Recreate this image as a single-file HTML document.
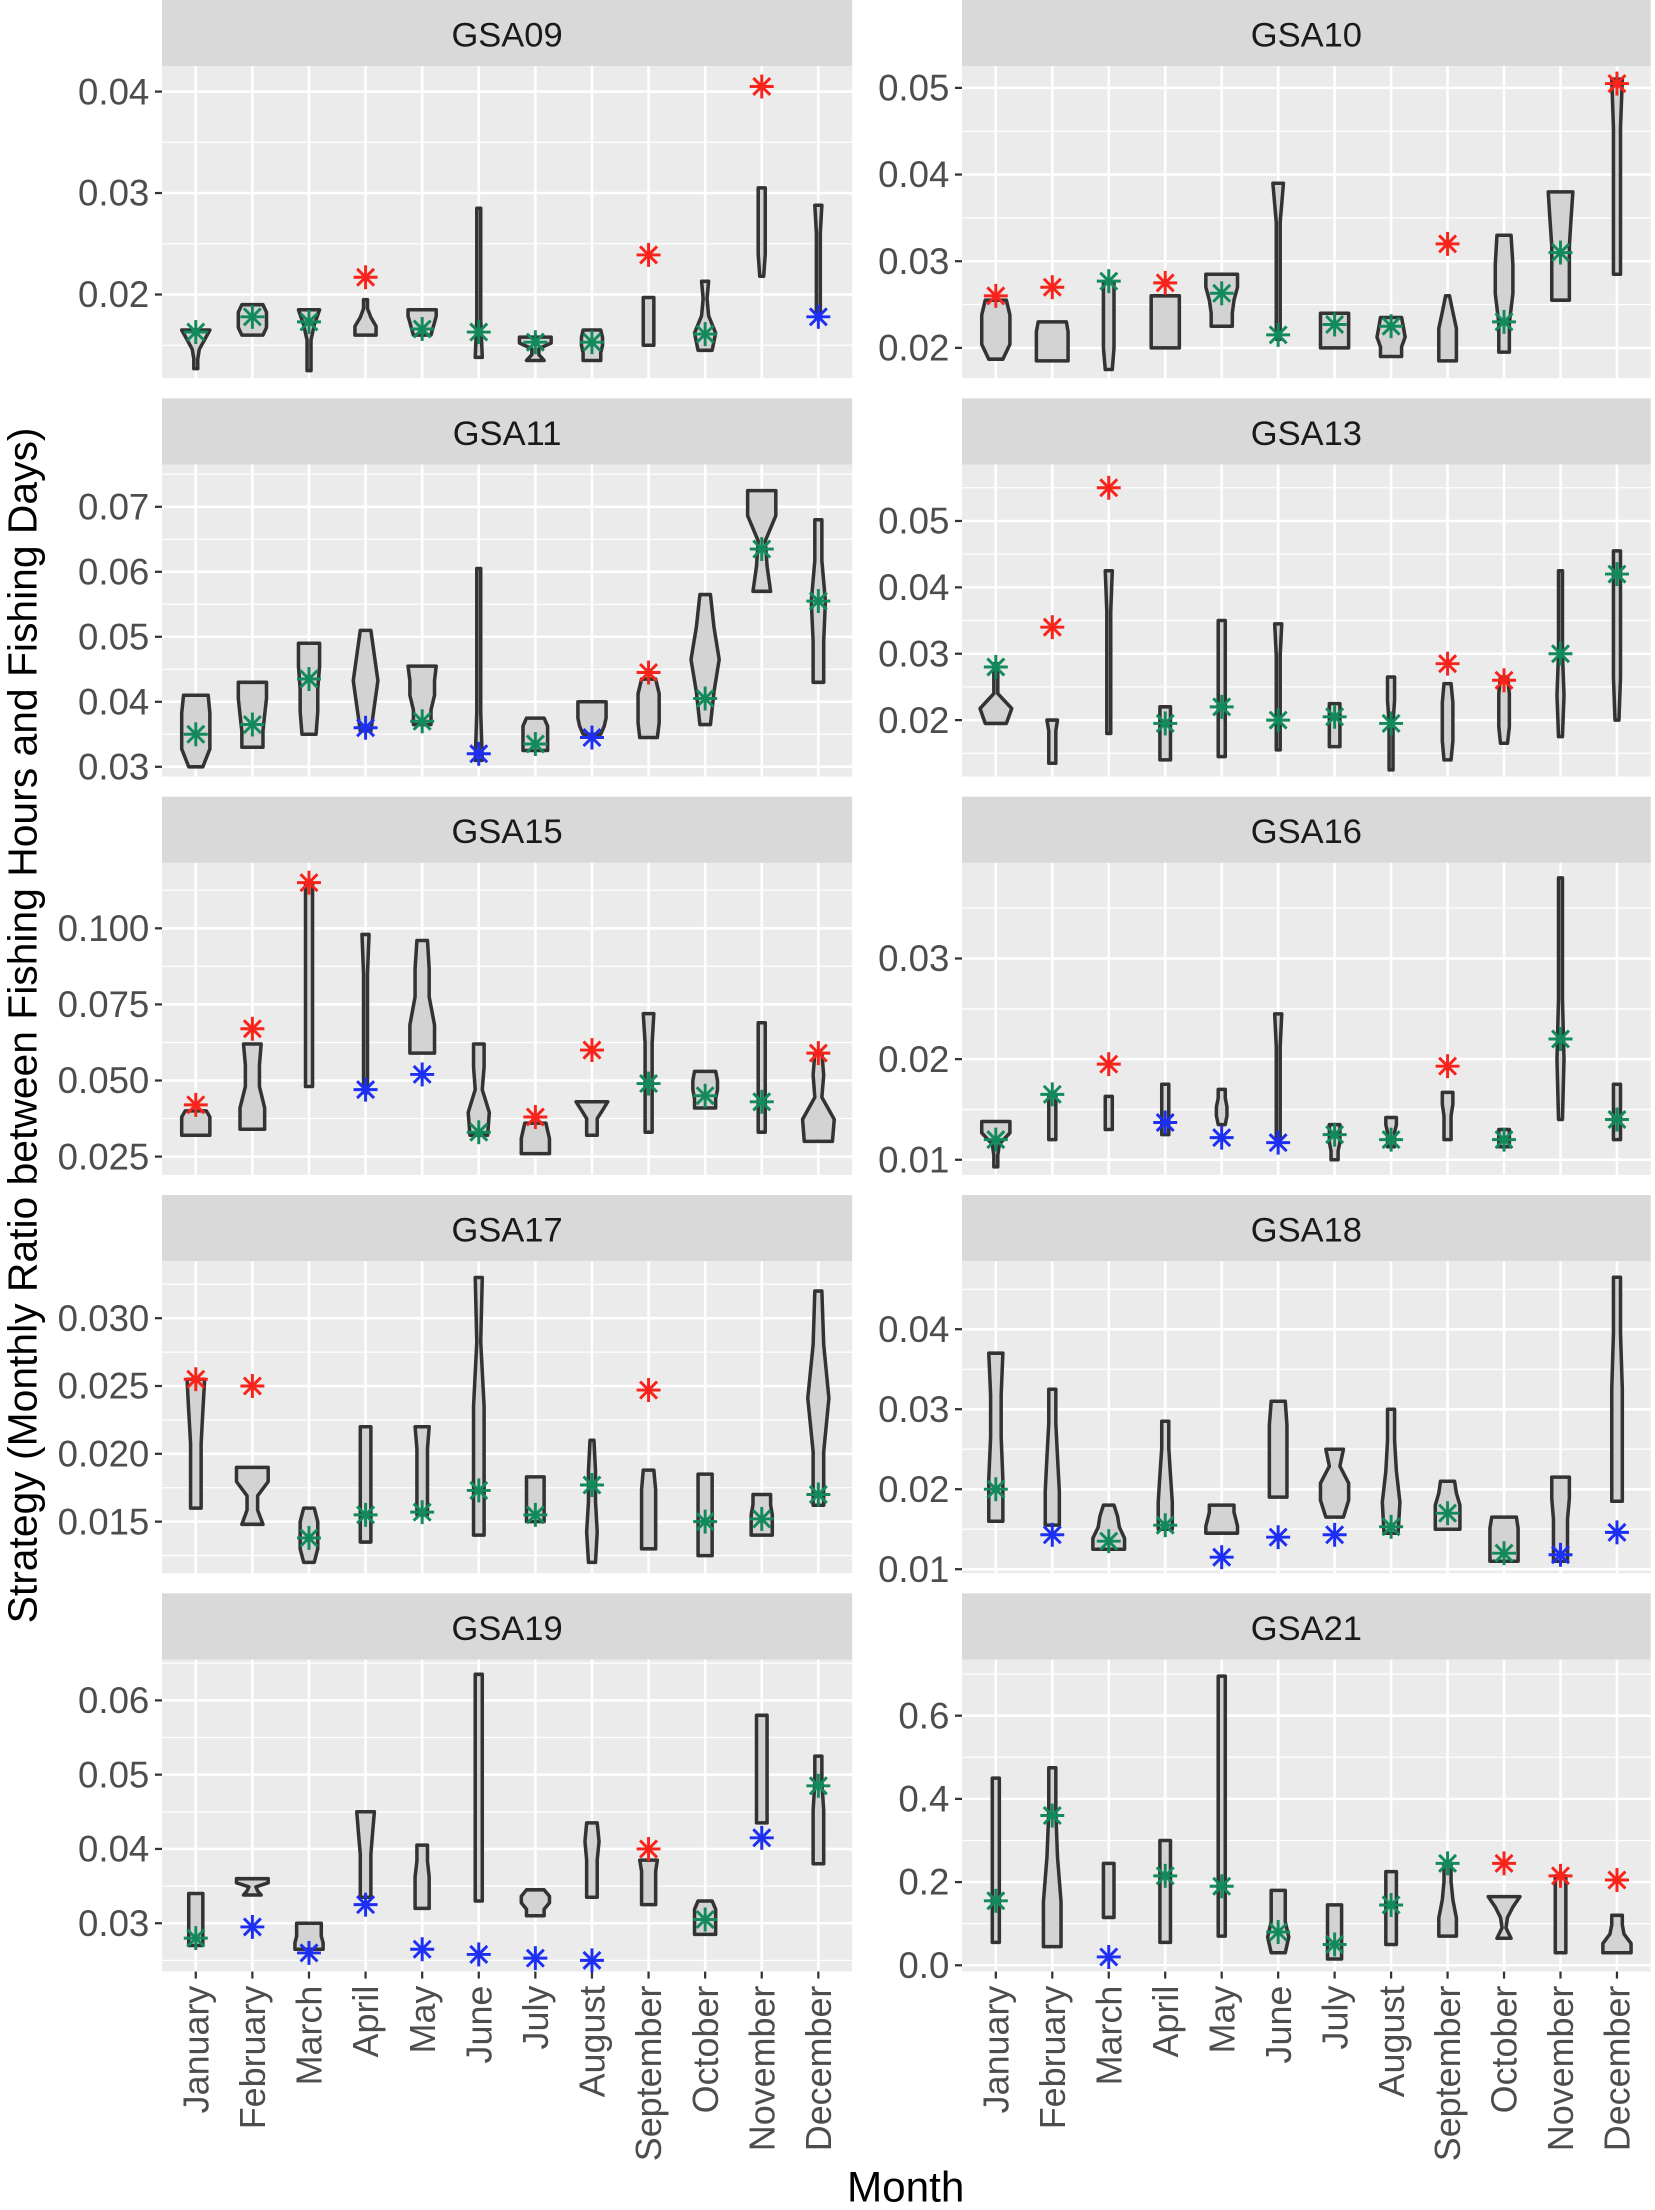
<!DOCTYPE html>
<html><head><meta charset="utf-8"><style>
html,body{margin:0;padding:0;background:#fff;}
svg{display:block;font-family:"Liberation Sans",sans-serif;}
</style></head><body>
<svg id="chart" width="1655" height="2210" viewBox="0 0 1175 1569" xmlns="http://www.w3.org/2000/svg">
<text transform="translate(26,728) rotate(-90)" text-anchor="middle" font-size="29" fill="#000">Strategy (Monthly Ratio between Fishing Hours and Fishing Days)</text>
<text x="643" y="1563" text-anchor="middle" font-size="30" fill="#000">Month</text>
</svg>
<script>
const months = ["January","February","March","April","May","June","July","August","September","October","November","December"];
const panelNames = ["GSA09","GSA10","GSA11","GSA13","GSA15","GSA16","GSA17","GSA18","GSA19","GSA21"];
const tickValues = [[0.02,0.03,0.04],[0.02,0.03,0.04,0.05],[0.03,0.04,0.05,0.06,0.07],[0.02,0.03,0.04,0.05],[0.025,0.05,0.075,0.1],[0.01,0.02,0.03],[0.015,0.02,0.025,0.03],[0.01,0.02,0.03,0.04],[0.03,0.04,0.05,0.06],[0,0.2,0.4,0.6]];
const tickLabels = [["0.02","0.03","0.04"],["0.02","0.03","0.04","0.05"],["0.03","0.04","0.05","0.06","0.07"],["0.02","0.03","0.04","0.05"],["0.025","0.050","0.075","0.100"],["0.01","0.02","0.03"],["0.015","0.020","0.025","0.030"],["0.01","0.02","0.03","0.04"],["0.03","0.04","0.05","0.06"],["0.0","0.2","0.4","0.6"]];
const domainLo = [0.01175,0.0165,0.0285,0.0115,0.019,0.0085,0.0112,0.0095,0.0235,-0.015];
const domainHi = [0.0425,0.0525,0.0765,0.0585,0.1215,0.0395,0.0342,0.0485,0.0655,0.735];
const violinLo = [
[0.0127,0.016,0.0125,0.016,0.016,0.0138,0.0135,0.0135,0.015,0.0145,0.0218,0.0178],
[0.0187,0.0185,0.0175,0.020,0.0225,0.021,0.020,0.019,0.0185,0.0195,0.0255,0.0285],
[0.030,0.033,0.035,0.0355,0.0365,0.031,0.0325,0.035,0.0345,0.0365,0.057,0.043],
[0.0195,0.0135,0.018,0.014,0.0145,0.0155,0.016,0.0125,0.014,0.0165,0.0175,0.020],
[0.032,0.034,0.048,0.046,0.059,0.032,0.026,0.032,0.033,0.041,0.033,0.030],
[0.0093,0.012,0.013,0.0125,0.0135,0.0115,0.010,0.0113,0.012,0.0113,0.014,0.012],
[0.016,0.0148,0.012,0.0135,0.0155,0.014,0.015,0.012,0.013,0.0125,0.014,0.0162],
[0.016,0.0155,0.0125,0.015,0.0145,0.019,0.0165,0.0145,0.015,0.011,0.011,0.0185],
[0.027,0.0338,0.0265,0.0335,0.032,0.033,0.031,0.0335,0.0325,0.0285,0.0435,0.038],
[0.055,0.045,0.115,0.055,0.07,0.03,0.015,0.05,0.07,0.065,0.03,0.03]];
const violinHi = [
[0.0165,0.019,0.0185,0.0195,0.0185,0.0285,0.0158,0.0165,0.0197,0.0213,0.0305,0.0288],
[0.0255,0.023,0.0275,0.026,0.0285,0.039,0.024,0.0235,0.026,0.033,0.038,0.051],
[0.041,0.043,0.049,0.051,0.0455,0.0605,0.0375,0.040,0.0435,0.0565,0.0725,0.068],
[0.0285,0.020,0.0425,0.022,0.035,0.0345,0.0225,0.0265,0.0255,0.0265,0.0425,0.0455],
[0.040,0.062,0.115,0.098,0.096,0.062,0.036,0.043,0.072,0.053,0.069,0.059],
[0.0138,0.0165,0.0163,0.0175,0.017,0.0245,0.0135,0.0142,0.0167,0.013,0.038,0.0175],
[0.0255,0.019,0.016,0.022,0.022,0.033,0.0183,0.021,0.0188,0.0185,0.017,0.032],
[0.037,0.0325,0.018,0.0285,0.018,0.031,0.025,0.030,0.021,0.0165,0.0215,0.0465],
[0.034,0.036,0.030,0.045,0.0405,0.0635,0.0345,0.0435,0.0385,0.033,0.058,0.0525],
[0.45,0.475,0.245,0.30,0.695,0.18,0.145,0.225,0.245,0.165,0.215,0.12]];
const violinShape = [
["11258","68886","11136","66311","56788","21111","52299","55665","33333","46212","12222","11112"],
["48886","99998","23333","88888","66799","11113","88888","66876","55531","33554","55567","22223"],
["48887","66788","45566","35753","55778","21111","77775","57888","56664","35853","53288","33422"],
["69111","22223","11112","33333","22222","11112","33333","11122","23332","23332","12111","12222"],
["88886","77445","22222","11112","77443","56233","88876","33369","22223","66776","22222","89232"],
["11288","22222","22222","22222","23322","11112","22333","22233","22233","33333","12111","22222"],
["33345","63399","35553","33333","33334","33312","55555","23221","44443","44444","66655","33632"],
["44334","44322","99653","44322","99877","55554","58835","45322","77754","88887","44455","33322"],
["44444","53299","88777","33345","44433","22222","55885","33343","44445","66664","33333","33322"],
["22222","55322","33333","33333","22222","46444","44444","33333","55322","41259","33333","88433"]];
const starValue = [
[0.0163,0.0178,0.0173,0.0217,0.0166,0.0163,0.0153,0.0153,0.0239,0.0161,0.0405,0.0178],
[0.026,0.027,0.0277,0.0275,0.0263,0.0215,0.0227,0.0225,0.032,0.023,0.031,0.0505],
[0.035,0.0365,0.0435,0.036,0.037,0.032,0.0335,0.0345,0.0445,0.0405,0.0635,0.0555],
[0.028,0.034,0.055,0.0195,0.022,0.020,0.0205,0.0195,0.0285,0.026,0.030,0.042],
[0.042,0.067,0.115,0.047,0.052,0.033,0.038,0.060,0.049,0.045,0.043,0.059],
[0.012,0.0165,0.0195,0.0137,0.0122,0.0117,0.0125,0.012,0.0193,0.012,0.022,0.014],
[0.0255,0.025,0.0138,0.0155,0.0157,0.0173,0.0155,0.0177,0.0247,0.015,0.0152,0.017],
[0.020,0.0143,0.0135,0.0155,0.0115,0.014,0.0143,0.0153,0.017,0.012,0.0118,0.0146],
[0.028,0.0295,0.026,0.0325,0.0265,0.0258,0.0253,0.025,0.040,0.0305,0.0415,0.0485],
[0.155,0.36,0.02,0.215,0.19,0.08,0.05,0.145,0.245,0.245,0.215,0.205]];
const starColor = [
"gggrggggrgrb",
"rrgrggggrggr",
"gggbgbgbrggg",
"grrgggggrrgg",
"rrrbbgrrgggr",
"ggrbbbggrggg",
"rrggggggrggg",
"gbggbbbgggbb",
"gbbbbbbbrgbg",
"ggbggggggrrr"];
const COLORS = {r:"#f8231a", g:"#128a5c", b:"#1c2ff2"};
const NS = "http://www.w3.org/2000/svg";
const svg = document.getElementById("chart");
function mk(tag, attrs, parent){const e=document.createElementNS(NS,tag);for(const k in attrs)e.setAttribute(k,attrs[k]);(parent||svg).appendChild(e);return e;}

panelNames.forEach((name,p)=>{
  const col=p%2, row=Math.floor(p/2);
  const x0 = col===0?115:683, x1 = col===0?605:1172;
  const sTop = row*282.8, pTop = sTop+47, pBot = sTop+268.5;
  const lo=domainLo[p], hi=domainHi[p];
  const ys = v => pBot - (v-lo)/(hi-lo)*(pBot-pTop);
  const xs = i => x0 + 24 + i*(x1-x0-48)/11;
  const g = mk("g",{});
  
  
  const strip = mk("rect",{x:x0,y:sTop,width:x1-x0,height:47,fill:"#d9d9d9"},g);
  
  
  const st = mk("text",{x:(x0+x1)/2,y:sTop+33,"text-anchor":"middle","font-size":"24.5",fill:"#1a1a1a"},g);
  st.textContent=name;
  
  
  const bg = mk("rect",{x:x0,y:pTop,width:x1-x0,height:pBot-pTop,fill:"#ebebeb"},g);
  
  
  const tv=tickValues[p], step=tv[1]-tv[0];
  for(let v=tv[0]-step/2; v<=hi; v+=step){ if(v<lo) continue; const y=ys(v);
    const ml=mk("line",{x1:x0,x2:x1,y1:y,y2:y,stroke:"#fff","stroke-width":"0.9"},g);
    
    
  }
  tv.forEach((v,k)=>{const y=ys(v);
    const gl=mk("line",{x1:x0,x2:x1,y1:y,y2:y,stroke:"#fff","stroke-width":"1.8"},g);
    
    
    const tk=mk("line",{x1:x0-5,x2:x0,y1:y,y2:y,stroke:"#333","stroke-width":"1.6"},g);
    
    
    const tl=mk("text",{x:x0-9,y:y+9,"text-anchor":"end","font-size":"26",fill:"#4d4d4d"},g);
    tl.textContent=tickLabels[p][k];
    
    
  });
  months.forEach((m,i)=>{const x=xs(i);
    const vl=mk("line",{x1:x,x2:x,y1:pTop,y2:pBot,stroke:"#fff","stroke-width":"1.8"},g);
    
    
    if(row===4){
      const tk=mk("line",{x1:x,x2:x,y1:pBot,y2:pBot+5,stroke:"#333","stroke-width":"1.6"},g);
      
      
      const tl=mk("text",{transform:`translate(${x+9},${pBot+10}) rotate(-90)`,"text-anchor":"end","font-size":"25.5",fill:"#4d4d4d"},g);
      tl.textContent=m;
      
      
    }
  });
  months.forEach((m,i)=>{
    const x=xs(i), yl=ys(violinLo[p][i]), yh=ys(violinHi[p][i]);
    const w=violinShape[p][i].split("").map(d=>Math.max(1.4,(+d)*1.25));
    const n=w.length, right=[], left=[];
    for(let k=0;k<n;k++){const y=yl+(yh-yl)*k/(n-1); right.push([x+w[k],y]); left.unshift([x-w[k],y]);}
    const pts=right.concat(left).map(q=>q[0].toFixed(1)+","+q[1].toFixed(1)).join(" ");
    const vp=mk("polygon",{points:pts,fill:"#d3d3d3",stroke:"#333","stroke-width":"2.5","stroke-linejoin":"round"},g);
    
    
  });
  months.forEach((m,i)=>{
    const x=xs(i), y=ys(starValue[p][i]), c=COLORS[starColor[p][i]]||COLORS.g, r=8.5;
    const sg=mk("g",{stroke:c,"stroke-width":"2.1","stroke-linecap":"butt"},g);
    
    
    mk("line",{x1:x,x2:x,y1:y-r,y2:y+r},sg);
    mk("line",{x1:x-r,x2:x+r,y1:y,y2:y},sg);
    const d=r*0.707;
    mk("line",{x1:x-d,x2:x+d,y1:y-d,y2:y+d},sg);
    mk("line",{x1:x-d,x2:x+d,y1:y+d,y2:y-d},sg);
  });
});
</script>
</body></html>
